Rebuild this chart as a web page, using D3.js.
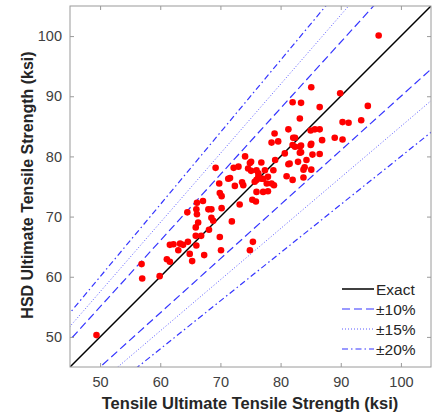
<!DOCTYPE html>
<html>
<head>
<meta charset="utf-8">
<script src="https://cdn.jsdelivr.net/npm/d3@7"></script>
<style>
  body { margin: 0; background: #fff; }
  svg { display: block; font-family: "Liberation Sans", Arial, Helvetica, sans-serif; }
</style>
</head>
<body>
<svg id="chart" width="433" height="415"></svg>
<script>
// measured tensile strength (x) vs HSD estimate (y), ksi
const tensile = [
  49.4, 56.9, 57.0, 59.9, 61.1, 61.6, 61.6, 62.2, 63.0, 63.3, 63.8, 64.6, 66.0, 64.9, 65.3, 67.3, 70.1,
  65.9, 65.9, 66.8, 68.1, 69.9, 66.1, 67.1, 66.0, 64.5, 66.1, 66.3, 68.0, 68.5, 70.2, 68.5, 68.8,
  71.9, 73.2, 69.9, 70.2, 69.8, 71.3, 71.6, 72.4, 73.8, 73.6, 69.2, 72.2, 73.0, 74.6, 75.1, 74.1,
  74.9, 75.3, 75.9, 74.9, 75.4,
  75.1, 76.8, 76.0, 77.4, 76.3, 76.8, 77.9, 77.1, 75.7, 77.7, 76.3, 76.0, 78.8, 78.5, 78.9, 77.1,
  76.0, 77.9,
  79.0, 78.5, 79.6, 82.1, 82.0, 83.4, 80.7, 83.4, 81.5, 82.9, 83.8, 84.0, 81.0, 82.0, 83.8, 85.1,
  79.1, 81.3, 84.3, 86.5, 83.2, 83.2, 82.4, 85.1, 85.0, 86.9, 89.0, 90.3, 81.3, 85.0, 85.7, 86.5,
  83.2, 90.3, 91.3, 93.4, 83.4, 82.0, 86.5, 94.5, 85.1, 89.9, 96.3, 82.4, 85.3
];
const hsd = [
  50.3, 62.1, 59.7, 60.1, 62.9, 62.5, 65.3, 65.4, 64.4, 65.5, 65.3, 65.8, 65.2, 63.8, 62.6, 63.6, 64.4,
  68.2, 66.8, 66.8, 67.8, 66.6, 72.3, 72.6, 71.2, 70.7, 70.4, 69.0, 71.2, 71.2, 71.4, 69.8, 69.3,
  69.2, 72.0, 73.9, 73.4, 75.5, 76.3, 76.4, 75.1, 75.2, 75.7, 78.1, 78.1, 78.3, 78.0, 77.6, 80.0,
  78.9, 72.8, 72.5, 64.4, 65.8,
  79.1, 79.0, 77.7, 77.7, 77.2, 76.3, 76.6, 76.3, 75.8, 75.5, 76.6, 76.1, 77.7, 75.5, 75.2, 74.1,
  74.1, 74.2,
  83.8, 82.3, 82.5, 83.1, 81.9, 81.8, 80.5, 80.7, 78.8, 79.1, 77.8, 78.2, 76.7, 76.1, 76.5, 77.8,
  79.4, 78.7, 79.4, 80.4, 80.6, 81.6, 81.6, 82.1, 81.9, 82.7, 83.1, 82.8, 84.5, 84.3, 84.5, 84.5,
  86.3, 85.7, 85.6, 86.0, 88.9, 89.0, 88.2, 88.4, 91.5, 90.5, 100.1, 83.1, 80.3
];

const xTicks = [50, 60, 70, 80, 90, 100];
const yTicks = [50, 60, 70, 80, 90, 100];
const bandNames = ["Exact", "\u00b110%", "\u00b115%", "\u00b120%"];
const bandPcts = [0, 10, 15, 20];

const svg = d3.select('#chart');
const plotL = 70, plotR = 431, plotT = 6, plotB = 367;

const x = d3.scaleLinear().domain([45, 105]).range([plotL, plotR]);
const y = d3.scaleLinear().domain([45, 105]).range([plotB, plotT]);

svg.append('defs').append('clipPath').attr('id', 'plot')
  .append('rect')
    .attr('x', plotL).attr('y', plotT)
    .attr('width', plotR - plotL).attr('height', plotB - plotT);

// line styles per band
const styles = [
  { color: '#000', width: 1.5, dash: null },
  { color: '#3535ff', width: 1.2, dash: '8,4' },
  { color: '#5a5aff', width: 1, dash: '1,2' },
  { color: '#3535ff', width: 1.2, dash: '6,3,1.5,3' }
];

const lineGen = d3.line().x(d => x(d[0])).y(d => y(d[1]));
const g = svg.append('g').attr('clip-path', 'url(#plot)');

bandPcts.forEach((p, i) => {
  const factors = p === 0 ? [1] : [1 + p / 100, 1 - p / 100];
  factors.forEach(f => {
    g.append('path')
      .attr('d', lineGen([[40, 40 * f], [110, 110 * f]]))
      .attr('fill', 'none')
      .attr('stroke', styles[i].color)
      .attr('stroke-width', styles[i].width)
      .attr('stroke-dasharray', styles[i].dash);
  });
});

g.selectAll('circle')
  .data(tensile.map((t, i) => [t, hsd[i]]))
  .join('circle')
    .attr('cx', d => x(d[0]))
    .attr('cy', d => y(d[1]))
    .attr('r', 3.3)
    .attr('fill', '#ff0000');

// axes, ticks inside on all four sides
function styleAxis(sel) {
  sel.select('.domain').remove();
  sel.selectAll('line').attr('stroke', '#9a9a9a');
  sel.selectAll('text').attr('fill', '#404040').attr('font-size', 14.5);
}
svg.append('g').attr('transform', `translate(0,${plotB})`)
  .call(d3.axisBottom(x).tickValues(xTicks).tickSize(-4).tickPadding(10))
  .call(styleAxis);
svg.append('g').attr('transform', `translate(0,${plotT})`)
  .call(d3.axisTop(x).tickValues(xTicks).tickSize(-4).tickFormat(''))
  .call(styleAxis);
svg.append('g').attr('transform', `translate(${plotL},0)`)
  .call(d3.axisLeft(y).tickValues(yTicks).tickSize(-4).tickPadding(8))
  .call(styleAxis);
svg.append('g').attr('transform', `translate(${plotR},0)`)
  .call(d3.axisRight(y).tickValues(yTicks).tickSize(-4).tickFormat(''))
  .call(styleAxis);

svg.append('rect')
  .attr('x', plotL).attr('y', plotT)
  .attr('width', plotR - plotL).attr('height', plotB - plotT)
  .attr('fill', 'none').attr('stroke', '#9a9a9a').attr('stroke-width', 1);

svg.append('text')
  .attr('x', 250).attr('y', 409)
  .attr('text-anchor', 'middle')
  .attr('font-size', 16.5).attr('font-weight', 'bold').attr('fill', '#262626')
  .text('Tensile Ultimate Tensile Strength (ksi)');

svg.append('text')
  .attr('transform', `translate(33,185) rotate(-90)`)
  .attr('text-anchor', 'middle')
  .attr('font-size', 16).attr('font-weight', 'bold').attr('fill', '#262626')
  .text('HSD Ultimate Tensile Strength (ksi)');

// legend
const legend = svg.append('g').attr('transform', 'translate(342,289)');
bandNames.forEach((name, i) => {
  const row = legend.append('g').attr('transform', `translate(0,${i * 20})`);
  row.append('line')
    .attr('x1', 0).attr('x2', 32).attr('y1', 0).attr('y2', 0)
    .attr('stroke', styles[i].color)
    .attr('stroke-width', styles[i].width)
    .attr('stroke-dasharray', styles[i].dash);
  row.append('text')
    .attr('x', 34).attr('y', 5.5)
    .attr('font-size', 15.5).attr('fill', '#262626')
    .text(name);
});
</script>
</body>
</html>
